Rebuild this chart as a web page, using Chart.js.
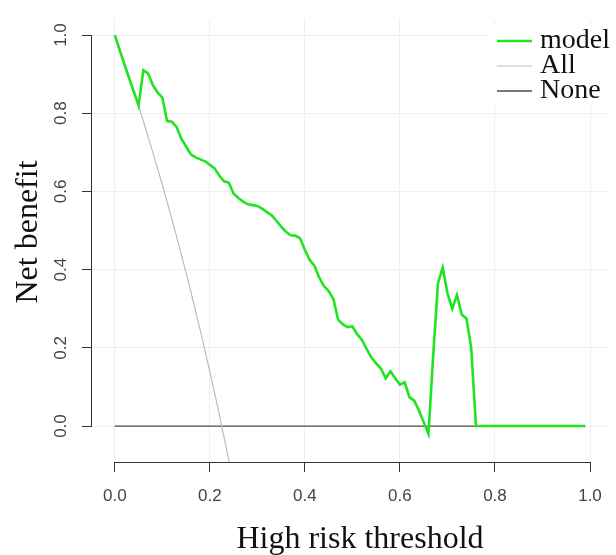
<!DOCTYPE html>
<html>
<head>
<meta charset="utf-8">
<script src="https://cdn.jsdelivr.net/npm/chart.js@4/dist/chart.umd.min.js"></script>
<style>
  html, body { margin: 0; padding: 0; background: #fff; }
  #wrap { width: 616px; height: 555px; }
</style>
</head>
<body>
<div id="wrap"><canvas id="dca" width="616" height="555"></canvas></div>
<script>
// ===== Data =====
const thresholds = [
  0.00, 0.01, 0.02, 0.03, 0.04, 0.05, 0.06, 0.07, 0.08, 0.09,
  0.10, 0.11, 0.12, 0.13, 0.14, 0.15, 0.16, 0.17, 0.18, 0.19,
  0.20, 0.21, 0.22, 0.23, 0.24, 0.25, 0.26, 0.27, 0.28, 0.29,
  0.30, 0.31, 0.32, 0.33, 0.34, 0.35, 0.36, 0.37, 0.38, 0.39,
  0.40, 0.41, 0.42, 0.43, 0.44, 0.45, 0.46, 0.47, 0.48, 0.49,
  0.50, 0.51, 0.52, 0.53, 0.54, 0.55, 0.56, 0.57, 0.58, 0.59,
  0.60, 0.61, 0.62, 0.63, 0.64, 0.65, 0.66, 0.67, 0.68, 0.69,
  0.70, 0.71, 0.72, 0.73, 0.74, 0.75, 0.76, 0.77, 0.78, 0.79,
  0.80, 0.81, 0.82, 0.83, 0.84, 0.85, 0.86, 0.87, 0.88, 0.89,
  0.90, 0.91, 0.92, 0.93, 0.94, 0.95, 0.96, 0.97, 0.98, 0.99
];
const modelBenefit = [
  1.000, 0.962, 0.926, 0.890, 0.855, 0.820, 0.910, 0.902, 0.872, 0.853,
  0.840, 0.780, 0.778, 0.765, 0.735, 0.715, 0.695, 0.687, 0.682, 0.677,
  0.668, 0.659, 0.640, 0.626, 0.622, 0.594, 0.583, 0.574, 0.567, 0.565,
  0.563, 0.556, 0.547, 0.539, 0.525, 0.510, 0.497, 0.488, 0.487, 0.480,
  0.450, 0.425, 0.410, 0.380, 0.358, 0.345, 0.325, 0.272, 0.260, 0.253,
  0.255, 0.235, 0.220, 0.197, 0.175, 0.160, 0.147, 0.122, 0.140, 0.122,
  0.106, 0.112, 0.074, 0.065, 0.040, 0.010, -0.020, 0.180, 0.365, 0.405,
  0.340, 0.300, 0.335, 0.285, 0.275, 0.200, 0.000, 0.000, 0.000, 0.000,
  0.000, 0.000, 0.000, 0.000, 0.000, 0.000, 0.000, 0.000, 0.000, 0.000,
  0.000, 0.000, 0.000, 0.000, 0.000, 0.000, 0.000, 0.000, 0.000, 0.000
];
const allThresholds = [0, 0.02, 0.04, 0.06, 0.08, 0.10, 0.12, 0.14, 0.16, 0.18, 0.20, 0.22, 0.24, 0.25];
const allBenefit = [1.000, 0.930, 0.857, 0.780, 0.700, 0.617, 0.530, 0.439, 0.344, 0.244, 0.139, 0.029, -0.088, -0.148];
const noneThresholds = [0, 0.99];
const noneBenefit = [0, 0];

const tickValues = [0, 0.2, 0.4, 0.6, 0.8, 1.0];
const seriesNames = ["model", "All", "None"];
const seriesColors = ["#1fe41f", "#bdbdbd", "#4a4a4a"];

const SERIF = "'Liberation Serif', 'Times New Roman', serif";
const SANS = "'Liberation Sans', Arial, sans-serif";

const toPoints = (xs, ys) => xs.map((x, i) => ({ x: x, y: ys[i] }));

// ===== R-style extras: detached axis lines, rotated y labels, titles, legend =====
const rStyle = {
  id: "rStyle",
  afterDraw(chart) {
    const { ctx, chartArea, scales } = chart;
    const xs = scales.x, ys = scales.y;
    ctx.save();

    // axis lines only span first..last tick
    ctx.strokeStyle = "#333";
    ctx.lineWidth = 1;
    ctx.beginPath();
    ctx.moveTo(xs.getPixelForValue(tickValues[0]), chartArea.bottom + 0.5);
    ctx.lineTo(xs.getPixelForValue(tickValues[tickValues.length - 1]), chartArea.bottom + 0.5);
    ctx.moveTo(chartArea.left - 0.5, ys.getPixelForValue(tickValues[0]));
    ctx.lineTo(chartArea.left - 0.5, ys.getPixelForValue(tickValues[tickValues.length - 1]));
    ctx.stroke();

    // y tick labels, parallel to the axis
    ctx.fillStyle = "#444";
    ctx.font = "17px " + SANS;
    ctx.textAlign = "center";
    ctx.textBaseline = "middle";
    tickValues.forEach(v => {
      ctx.save();
      ctx.translate(chartArea.left - 31, ys.getPixelForValue(v));
      ctx.rotate(-Math.PI / 2);
      ctx.fillText(v.toFixed(1), 0, 0);
      ctx.restore();
    });

    // axis titles
    ctx.fillStyle = "#111";
    ctx.font = "32px " + SERIF;
    ctx.textBaseline = "alphabetic";
    ctx.fillText("High risk threshold", 360, 548);
    ctx.save();
    ctx.translate(37, 232);
    ctx.rotate(-Math.PI / 2);
    ctx.fillText("Net benefit", 0, 0);
    ctx.restore();

    // legend
    ctx.fillStyle = "#fff";
    ctx.fillRect(490, 24, 126, 82);
    ctx.font = "28px " + SERIF;
    ctx.textAlign = "left";
    ctx.textBaseline = "middle";
    chart.data.datasets.forEach((ds, i) => {
      const ly = 41 + i * 25;
      ctx.strokeStyle = ds.borderColor;
      ctx.lineWidth = ds.borderWidth;
      ctx.beginPath();
      ctx.moveTo(497, ly);
      ctx.lineTo(532, ly);
      ctx.stroke();
      ctx.fillStyle = "#111";
      ctx.fillText(ds.label, 540, ly);
    });

    ctx.restore();
  }
};

new Chart(document.getElementById("dca"), {
  type: "line",
  data: {
    datasets: [
      { label: seriesNames[0], data: toPoints(thresholds, modelBenefit), borderColor: seriesColors[0], borderWidth: 2.6 },
      { label: seriesNames[1], data: toPoints(allThresholds, allBenefit), borderColor: seriesColors[1], borderWidth: 1.2 },
      { label: seriesNames[2], data: toPoints(noneThresholds, noneBenefit), borderColor: seriesColors[2], borderWidth: 1.3 }
    ]
  },
  options: {
    responsive: false,
    animation: false,
    devicePixelRatio: 1,
    layout: { padding: { top: 19, right: 5, left: 0, bottom: 0 } },
    elements: {
      point: { radius: 0 },
      line: { tension: 0, fill: false }
    },
    plugins: {
      legend: { display: false },
      tooltip: { enabled: false }
    },
    scales: {
      x: {
        type: "linear",
        min: -0.048,
        max: 1.04,
        afterBuildTicks: s => { s.ticks = tickValues.map(v => ({ value: v })); },
        afterFit: s => { s.height = 93; },
        border: { display: false },
        grid: { color: "#efefef", tickColor: "#333", tickLength: 10 },
        ticks: {
          color: "#444",
          font: { family: SANS, size: 17 },
          padding: 14,
          maxRotation: 0,
          autoSkip: false,
          callback: v => v.toFixed(1)
        }
      },
      y: {
        type: "linear",
        min: -0.092,
        max: 1.041,
        afterBuildTicks: s => { s.ticks = tickValues.map(v => ({ value: v })); },
        afterFit: s => { s.width = 92; },
        border: { display: false },
        grid: { color: "#efefef", tickColor: "#333", tickLength: 10 },
        ticks: { display: false }
      }
    }
  },
  plugins: [rStyle]
});
</script>
</body>
</html>
